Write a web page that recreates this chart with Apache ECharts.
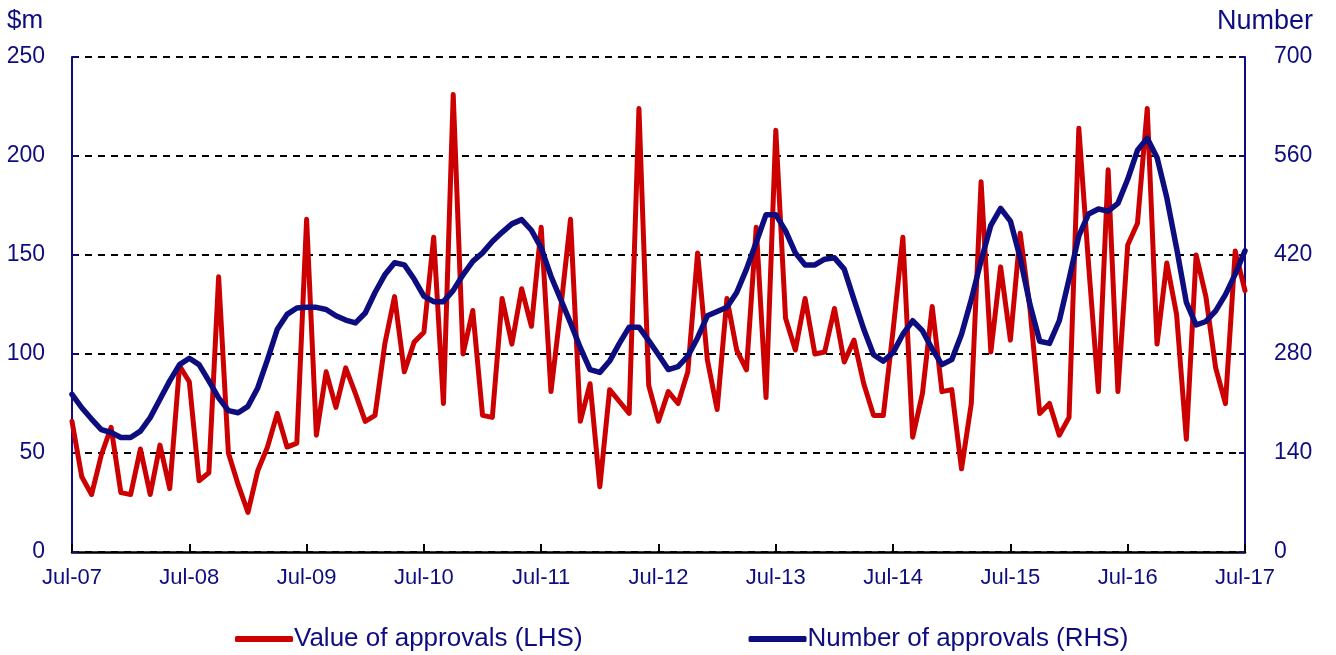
<!DOCTYPE html>
<html>
<head>
<meta charset="utf-8">
<script src="https://cdn.jsdelivr.net/npm/echarts@6/dist/echarts.min.js"></script>
<style>
html,body{margin:0;padding:0;background:#fff;}
#chart{width:1336px;height:655px;}
</style>
</head>
<body>
<div id="chart"></div>
<script>
// Monthly categories Jul-07 .. Jul-17
var monthNames = ['Jan','Feb','Mar','Apr','May','Jun','Jul','Aug','Sep','Oct','Nov','Dec'];
var categories = [];
for (var k = 0; k <= 120; k++) {
  var m = (6 + k) % 12;
  var y = 7 + Math.floor((6 + k) / 12);
  categories.push(monthNames[m] + '-' + (y < 10 ? '0' + y : '' + y));
}

// Value of approvals, $m (LHS)
var valueApprovals = [
  66, 38, 29, 49, 63, 30, 29, 52, 29, 54, 32, 94,
  86, 36, 40, 139, 50, 34, 20, 41, 53, 70, 53, 55,
  168, 59, 91, 73, 93, 80, 66, 69, 105, 129, 91, 106,
  111, 159, 75, 231, 100, 122, 69, 68, 128, 105, 133, 114,
  164, 81, 123, 168, 66, 85, 33, 82, 76, 70, 224, 84,
  66, 81, 75, 91, 151, 97, 72, 128, 102, 92, 164, 78,
  213, 118, 102, 128, 100, 101, 123, 96, 107, 85, 69, 69,
  112, 159, 58, 80, 124, 81, 82, 42, 75, 187, 101, 144,
  107, 161, 123, 70, 75, 59, 68, 214, 145, 81, 193, 81,
  155, 166, 224, 105, 146, 120, 57, 150, 129, 93, 75, 152,
  132
];

// Number of approvals (RHS)
var numberApprovals = [
  223, 204, 188, 173, 169, 162, 162, 171, 190, 216, 242, 265,
  274, 265, 242, 218, 200, 197, 206, 232, 272, 315, 336, 345,
  346, 346, 343, 334, 328, 324, 338, 367, 392, 409, 406, 386,
  362, 354, 354, 370, 392, 411, 423, 439, 452, 464, 470, 455,
  430, 390, 357, 324, 289, 258, 254, 270, 295, 318, 318, 299,
  279, 258, 262, 277, 303, 334, 340, 346, 367, 400, 438, 477,
  477, 454, 423, 406, 406, 414, 416, 400, 357, 315, 279, 270,
  282, 308, 327, 313, 287, 265, 272, 308, 357, 412, 462, 486,
  468, 416, 350, 298, 295, 327, 386, 447, 478, 485, 482, 493,
  527, 568, 585, 558, 501, 430, 353, 321, 326, 341, 364, 393,
  426
];

var leftTicks = [0, 50, 100, 150, 200, 250];
var rightTicks = [0, 140, 280, 420, 560, 700];
var xTickLabels = ['Jul-07','Jul-08','Jul-09','Jul-10','Jul-11','Jul-12','Jul-13','Jul-14','Jul-15','Jul-16','Jul-17'];

var NAVY = '#0d0d80';
var RED = '#cc0000';
var FONT = "'Liberation Sans', Arial, sans-serif";

var chart = echarts.init(document.getElementById('chart'), null, {renderer: 'canvas'});
chart.setOption({
  animation: false,
  backgroundColor: '#ffffff',
  grid: {left: 72, right: 91, top: 57, bottom: 103, containLabel: false},
  legend: {
    left: 230,
    top: 621,
    itemWidth: 58,
    itemHeight: 6,
    itemGap: 166,
    icon: 'roundRect',
    textStyle: {color: NAVY, fontFamily: FONT, fontSize: 26, padding: [0,0,0,-4]},
    data: ['Value of approvals (LHS)', 'Number of approvals (RHS)']
  },
  graphic: [
    {type: 'text', left: 7, top: 8, style: {text: '$m', fill: NAVY, font: "26px 'Liberation Sans', Arial, sans-serif"}},
    {type: 'text', left: 1217, top: 8, style: {text: 'Number', fill: NAVY, font: "27px 'Liberation Sans', Arial, sans-serif"}}
  ],
  xAxis: {
    type: 'category',
    data: categories,
    boundaryGap: false,
    axisLine: {lineStyle: {color: '#000', width: 2.5}},
    axisTick: {
      inside: true, length: 8, lineStyle: {color: '#000', width: 2},
      interval: function (idx) { return idx % 12 === 0; }
    },
    axisLabel: {
      color: NAVY, fontFamily: FONT, fontSize: 22, margin: 15,
      interval: function (idx) { return idx % 12 === 0; },
      formatter: function (v, idx) { return xTickLabels[idx / 12] || v; }
    },
    splitLine: {show: false}
  },
  yAxis: [
    {
      type: 'value', min: 0, max: 250, interval: 50, position: 'left',
      axisLine: {show: true, lineStyle: {color: NAVY, width: 2}},
      axisTick: {show: true, inside: true, length: 6, lineStyle: {color: NAVY, width: 2}},
      axisLabel: {color: NAVY, fontFamily: FONT, fontSize: 23, margin: 27,
        formatter: function (v) { return leftTicks.indexOf(v) >= 0 ? String(v) : ''; }},
      splitLine: {show: true, lineStyle: {color: '#000', width: 2, type: [7, 6]}}
    },
    {
      type: 'value', min: 0, max: 700, interval: 140, position: 'right',
      axisLine: {show: true, lineStyle: {color: NAVY, width: 2}},
      axisTick: {show: true, inside: true, length: 6, lineStyle: {color: NAVY, width: 2}},
      axisLabel: {color: NAVY, fontFamily: FONT, fontSize: 23, margin: 29,
        formatter: function (v) { return rightTicks.indexOf(v) >= 0 ? String(v) : ''; }},
      splitLine: {show: false}
    }
  ],
  series: [
    {
      name: 'Value of approvals (LHS)', type: 'line', yAxisIndex: 0,
      data: valueApprovals, showSymbol: false, symbol: 'none',
      itemStyle: {color: RED},
      lineStyle: {color: RED, width: 5, cap: 'round', join: 'round'},
      z: 2
    },
    {
      name: 'Number of approvals (RHS)', type: 'line', yAxisIndex: 1,
      data: numberApprovals, showSymbol: false, symbol: 'none',
      itemStyle: {color: NAVY},
      lineStyle: {color: NAVY, width: 5.5, cap: 'round', join: 'round'},
      z: 3
    }
  ]
});
</script>
</body>
</html>
